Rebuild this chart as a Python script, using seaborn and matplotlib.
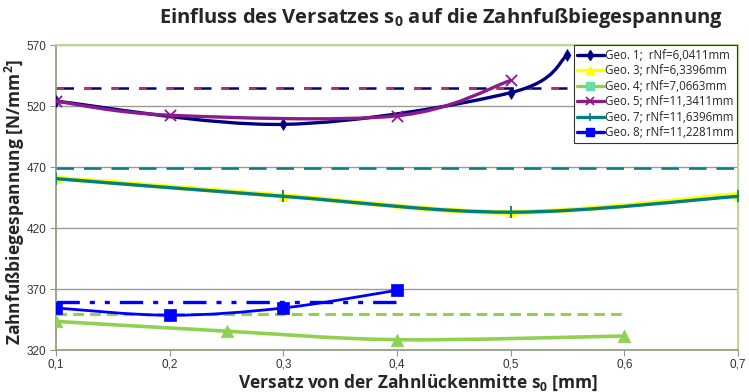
import numpy as np
import pandas as pd
import seaborn as sns
import matplotlib
matplotlib.use("Agg")
import matplotlib.pyplot as plt
from matplotlib.path import Path
from matplotlib.patches import PathPatch
from matplotlib.lines import Line2D
from matplotlib.ticker import FuncFormatter

# Measured bending stress per geometry over tooth-gap offset s0
geo1_x = [0.1, 0.3, 0.5, 0.55]
geo1_y = [524, 505, 531, 562]
geo3_x = [0.1, 0.3, 0.5, 0.7]
geo3_y = [461, 446.5, 433, 447.5]
geo4_x = [0.1, 0.25, 0.4, 0.6]
geo4_y = [343.5, 335.5, 328.5, 331.5]
geo5_x = [0.1, 0.2, 0.4, 0.5]
geo5_y = [524, 512.5, 512, 541]
geo7_x = [0.1, 0.3, 0.5, 0.7]
geo7_y = [460.5, 446, 433, 446]
geo8_x = [0.1, 0.2, 0.3, 0.4]
geo8_y = [354.5, 348.5, 354.5, 369]

# Permissible stress levels (horizontal reference lines): value, x-start, x-end
limit_geo1 = (535, 0.1, 0.55)
limit_geo5 = (535, 0.1, 0.55)
limit_geo3 = (469, 0.1, 0.7)
limit_geo7 = (469, 0.1, 0.7)
limit_geo4 = (349.5, 0.1, 0.6)
limit_geo8 = (359, 0.1, 0.4)

labels = ["Geo. 1;  rNf=6,0411mm", "Geo. 3; rNf=6,3396mm", "Geo. 4; rNf=7,0663mm",
          "Geo. 5; rNf=11,3411mm", "Geo. 7; rNf=11,6396mm", "Geo. 8; rNf=11,2281mm"]

x_ticks = [0.1, 0.2, 0.3, 0.4, 0.5, 0.6, 0.7]
y_ticks = [320, 370, 420, 470, 520, 570]

title = r"Einfluss des Versatzes s$_{\mathbf{0}}$ auf die Zahnfußbiegespannung"
xlabel = r"Versatz von der Zahnlückenmitte s$_{\mathbf{0}}$ [mm]"
ylabel = r"Zahnfußbiegespannung [N/mm$^{\mathbf{2}}$]"

C_NAVY = "#000080"
C_YELLOW = "#FFFF00"
C_LGREEN = "#8FD150"
C_PURPLE = "#8B1A8B"
C_TEAL = "#008080"
C_BLUE = "#0000FF"

sns.set_theme(style="white")
plt.rcParams["font.family"] = ["Liberation Sans", "DejaVu Sans"]
plt.rcParams["mathtext.fontset"] = "custom"
plt.rcParams["mathtext.rm"] = "Open Sans"
plt.rcParams["mathtext.bf"] = "Open Sans:bold"

fig = plt.figure(figsize=(7.49, 3.92), dpi=100)
ax = fig.add_axes([0.0748, 0.107, 0.9105, 0.778])


def smooth_curve(ax, xs, ys, color, lw, z):
    """Draw an Excel-style smoothed line through the points as cubic Beziers."""
    p = np.column_stack([xs, ys]).astype(float)
    n = len(p)
    verts = [tuple(p[0])]
    codes = [Path.MOVETO]
    for i in range(n - 1):
        p0 = p[i - 1] if i > 0 else p[i]
        p1 = p[i]
        p2 = p[i + 1]
        p3 = p[i + 2] if i + 2 < n else p[i + 1]
        c1 = p1 + (p2 - p0) / 6.0
        c2 = p2 - (p3 - p1) / 6.0
        verts += [tuple(c1), tuple(c2), tuple(p2)]
        codes += [Path.CURVE4] * 3
    patch = PathPatch(Path(verts, codes), facecolor="none", edgecolor=color,
                      lw=lw, zorder=z, capstyle="round", joinstyle="round")
    ax.add_patch(patch)


def ref_line(ax, spec, color, dashes, lw, z):
    val, x0, x1 = spec
    df = pd.DataFrame({"x": [x0, x1], "y": [val, val]})
    sns.lineplot(data=df, x="x", y="y", ax=ax, color=color, lw=lw, zorder=z,
                 dashes=False, legend=False)
    ax.lines[-1].set_dashes(dashes)


# reference (dashed) levels
ref_line(ax, limit_geo3, "#C8E05A", (7, 4), 1.8, 2)
ref_line(ax, limit_geo7, C_TEAL, (7, 4), 1.8, 2.1)
ref_line(ax, limit_geo1, C_NAVY, (7, 4), 1.8, 2)
ref_line(ax, limit_geo5, "#C0306A", (3, 8), 1.8, 2.1)
ref_line(ax, limit_geo4, C_LGREEN, (3.5, 2), 2.2, 2)
ref_line(ax, limit_geo8, C_BLUE, (7, 3, 1.5, 3, 1.5, 3), 2.4, 2)

series = [
    (geo3_x, geo3_y, C_YELLOW, "^", 7, 3.6, 3),
    (geo7_x, geo7_y, C_TEAL, "+", 8, 2.4, 3.2),
    (geo1_x, geo1_y, C_NAVY, "d", 6, 2.4, 3.4),
    (geo5_x, geo5_y, C_PURPLE, "x", 8, 2.4, 3.6),
    (geo4_x, geo4_y, C_LGREEN, "^", 9, 2.6, 3),
    (geo8_x, geo8_y, C_BLUE, "s", 8, 2.0, 3.2),
]
for xs, ys, col, mk, ms, lw, z in series:
    smooth_curve(ax, xs, ys, col, lw, z)
    df = pd.DataFrame({"x": xs, "y": ys})
    if mk in ("+", "x"):
        sns.scatterplot(data=df, x="x", y="y", ax=ax, marker=mk, s=ms ** 2,
                        color=col, linewidth=1.3, zorder=z + 0.05, legend=False)
    else:
        sns.scatterplot(data=df, x="x", y="y", ax=ax, marker=mk, s=ms ** 2,
                        color=col, edgecolor=col, linewidth=0.5,
                        zorder=z + 0.05, legend=False)

ax.set_xlim(0.1, 0.7)
ax.set_ylim(320, 570)
ax.set_xticks(x_ticks)
ax.set_yticks(y_ticks)
ax.xaxis.set_major_formatter(FuncFormatter(lambda v, _: f"{v:.1f}".replace(".", ",")))
ax.yaxis.set_major_formatter(FuncFormatter(lambda v, _: f"{v:.0f}"))
ax.tick_params(axis="both", which="major", labelsize=8.5, colors="#333333",
               length=4, width=0.8, direction="out", bottom=True, left=True)
ax.tick_params(axis="x", pad=2, color="#8A9A7A")
ax.tick_params(axis="y", pad=3, color="#8A9A7A")
ax.grid(axis="y", color="#9A9A9A", lw=1.0)
ax.set_axisbelow(True)

for side in ("left", "bottom"):
    ax.spines[side].set_color("#8A9A7A")
    ax.spines[side].set_linewidth(1.2)
for side in ("top", "right"):
    ax.spines[side].set_color("#B5DC8C")
    ax.spines[side].set_linewidth(1.4)

ax.set_xlabel("")
ax.set_ylabel("")
fig.text(418 / 749, 1 - 383 / 392, xlabel, ha="center", va="center",
         fontsize=12.5, fontweight="bold", family="Open Sans")
fig.text(15 / 749, 1 - 202 / 392, ylabel, ha="center", va="center", rotation=90,
         fontsize=12.5, fontweight="bold", family="Open Sans")
fig.text(441 / 749, 1 - 18 / 392, title, ha="center", va="center", fontsize=14.5,
         fontweight="bold", family="Open Sans")

handles = [
    Line2D([], [], color=C_NAVY, lw=2.4, marker="d", ms=5),
    Line2D([], [], color=C_YELLOW, lw=2.4, marker="^", ms=6),
    Line2D([], [], color=C_LGREEN, lw=2.4, marker="s", ms=6, mfc="#66DDB0", mec="#66DDB0"),
    Line2D([], [], color=C_PURPLE, lw=2.4, marker="x", ms=6, mew=1.2),
    Line2D([], [], color=C_TEAL, lw=2.4, marker="+", ms=6, mew=1.2),
    Line2D([], [], color=C_BLUE, lw=2.4, marker="s", ms=6),
]
leg = ax.legend(handles, labels, loc="upper right", bbox_to_anchor=(0.9985, 1.0),
                fontsize=8.3, frameon=True, fancybox=False, framealpha=1,
                edgecolor="#333333", handlelength=2.3, handletextpad=0.1,
                borderpad=0.3, labelspacing=0.22, borderaxespad=0.0)
leg.get_frame().set_linewidth(0.8)
for t in leg.get_texts():
    t.set_family("Open Sans")

fig.savefig("out.png", dpi=100)
